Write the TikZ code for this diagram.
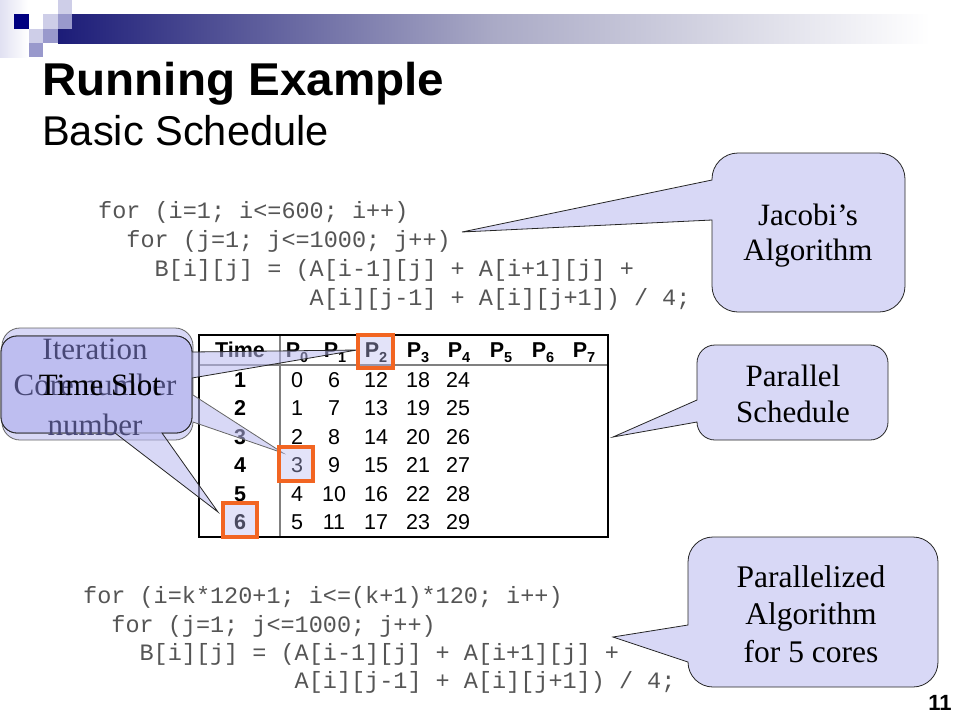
\documentclass[tikz,border=0pt]{standalone}
\usepackage{fontspec}
\setmainfont{Liberation Serif}
\setsansfont{Liberation Sans}
\setmonofont{Liberation Mono}
\definecolor{sqdark}{RGB}{0,0,128}
\definecolor{sqlight}{RGB}{206,206,232}
\definecolor{sqmid}{RGB}{153,153,204}
\definecolor{bardark}{RGB}{28,28,120}
\definecolor{barmid}{RGB}{170,170,198}
\definecolor{stripc}{RGB}{225,225,242}
\definecolor{codegray}{RGB}{85,85,85}
\definecolor{callfill}{RGB}{185,185,240}
\definecolor{hiorange}{RGB}{242,101,34}
\definecolor{dimtext}{RGB}{72,72,118}
\definecolor{tabline}{RGB}{128,128,128}
\begin{document}
\begin{tikzpicture}[x=1pt,y=-1pt,
  codetxt/.style={anchor=base west, inner sep=0pt, text=codegray, font=\fontsize{23.5}{28}\ttfamily},
  tabn/.style={anchor=base, inner sep=0pt, font=\fontsize{21.5}{24}\sffamily},
  tabb/.style={anchor=base, inner sep=0pt, font=\fontsize{21.5}{24}\sffamily\bfseries},
  callshape/.style={fill=callfill, fill opacity=0.55, draw=black!85, line width=0.8pt},
  calltext/.style={align=center, inner sep=0pt, font=\fontsize{31}{35}\selectfont},
  hilite/.style={draw=hiorange, line width=3.5pt, fill=callfill, fill opacity=0.4}
]
\useasboundingbox (0,0) rectangle (960,720);
\fill[white] (0,0) rectangle (960,720);
% ---- header decoration
\shade[left color=stripc, right color=white] (0,0) rectangle (28,57);
\fill[sqdark] (14,14) rectangle (29,29);
\fill[sqlight] (58,0) rectangle (72,14);
\fill[sqlight] (43,14) rectangle (58,29);
\fill[sqlight] (29,29) rectangle (43,43);
\fill[sqmid] (43,29) rectangle (58,43);
\fill[sqmid] (29,43) rectangle (43,57);
\shade[left color=bardark, right color=white, middle color=barmid] (58,14) rectangle (930,43);
\fill[sqmid] (58,14) rectangle (72,29);
% ---- title
\node[anchor=base west, inner sep=0pt, font=\fontsize{46}{50}\sffamily\bfseries] (title) at (42,95) {\scalebox{1.035}[1]{Running Example}};
\node[anchor=base west, inner sep=0pt, font=\fontsize{41.6}{46}\sffamily] (subtitle) at (42,145) {Basic Schedule};
% ---- code top
\node[codetxt] (ca1) at (98,218) {for (i=1; i<=600; i++)};
\node[codetxt] (ca2) at (126.2,247) {for (j=1; j<=1000; j++)};
\node[codetxt] (ca3) at (154.4,276) {B[i][j] = (A[i-1][j] + A[i+1][j] +};
\node[codetxt] (ca4) at (309.5,305) {A[i][j-1] + A[i][j+1]) / 4;};
% ---- code bottom
\node[codetxt] (cb1) at (83,603) {for (i=k*120+1; i<=(k+1)*120; i++)};
\node[codetxt] (cb2) at (111.2,632) {for (j=1; j<=1000; j++)};
\node[codetxt] (cb3) at (139.4,660) {B[i][j] = (A[i-1][j] + A[i+1][j] +};
\node[codetxt] (cb4) at (294.5,688) {A[i][j-1] + A[i][j+1]) / 4;};
% ---- table
\draw[tabline, line width=1.5pt] (280,335) -- (280,537);
\draw[tabline, line width=1.5pt] (199,365) -- (608,365);
\draw[black, line width=2.5pt] (199,335) rectangle (608,537);
\node[tabb] (htime) at (240,357.7) {Time};
\foreach \i/\xx in {0/297,1/335,2/376,3/418,4/459,5/501,6/543,7/584}
  \node[tabb] (hp\i) at (\xx,357.7) {P\raisebox{-5pt}{\fontsize{14.5}{15}\selectfont\i}};
\foreach \r/\yy in {1/387.7,2/415.7,3/444.7,4/472.7,5/501.7,6/529.7}
  \node[tabb] (t\r) at (240,\yy) {\r};
\foreach \c/\xx in {0/297,1/334,2/376,3/418,4/458}{
  \foreach \r/\yy in {1/387.7,2/415.7,3/444.7,4/472.7,5/501.7,6/529.7}{
    \pgfmathtruncatemacro\vv{\r-1+6*\c}
    \node[tabn] (v\r-\c) at (\xx,\yy) {\vv};
  }
}
% ---- callouts right
\path[callshape] (738,153) -- (879,153) arc(270:360:26) -- (905,286) arc(0:90:26)
  -- (738,312) arc(90:180:26) -- (712,220) -- (462,232) -- (712,180) -- (712,179) arc(180:270:26) -- cycle;
\node[calltext] (jac) at (808,236) {Jacobi’s\\Algorithm};
\path[callshape] (715,345) -- (870,345) arc(270:360:18) -- (888,422) arc(0:90:18)
  -- (715,440) arc(90:180:18) -- (613,437) -- (697,400) -- (697,363) arc(180:270:18) -- cycle;
\node[calltext, font=\fontsize{31}{36}\selectfont] (par) at (793,394) {Parallel\\Schedule};
\path[callshape] (713,537) -- (913,537) arc(270:360:25) -- (938,662) arc(0:90:25)
  -- (713,687) arc(90:180:25) -- (613,637) -- (688,625) -- (688,562) arc(180:270:25) -- cycle;
\node[calltext, font=\fontsize{31.5}{37.5}\selectfont] (pz) at (811,614) {Parallelized\\Algorithm\\for 5 cores};
% ---- callouts left
\path[callshape, draw=black!60] (20,328) -- (175,328) arc(270:360:18) -- (193,395) -- (283,453) -- (193,422)
  arc(0:90:18) -- (20,440) arc(90:180:18) -- (2,346) arc(180:270:18) -- cycle;
\path[callshape] (17,336) -- (176,336) arc(270:360:16) -- (357,350) -- (192,378) -- (192,417) arc(0:90:16)
  -- (17,433) arc(90:180:16) -- (1,352) arc(180:270:16) -- cycle;
\path[callshape] (17,336) -- (176,336) arc(270:360:16) -- (192,417) arc(0:90:16)
  -- (162,433) -- (218,512) -- (115,433) -- (17,433) arc(90:180:16) -- (1,352) arc(180:270:16) -- cycle;
\node[calltext, text=dimtext, font=\fontsize{31}{76}\selectfont] (iter) at (95,387) {Iteration\\number};
\node[calltext, text=dimtext] (core) at (95,385) {Core number};
\node[calltext] (tslot) at (100,385) {Time Slot};
% ---- highlights
\draw[hilite] (358,335) rectangle (393,368);
\draw[hilite] (279,447) rectangle (313,481);
\draw[hilite] (223,503) rectangle (257,537);
% ---- page number
\node[inner sep=0pt, font=\fontsize{22}{24}\sffamily\bfseries] (pnum) at (940,703) {11};
\end{tikzpicture}
\end{document}
